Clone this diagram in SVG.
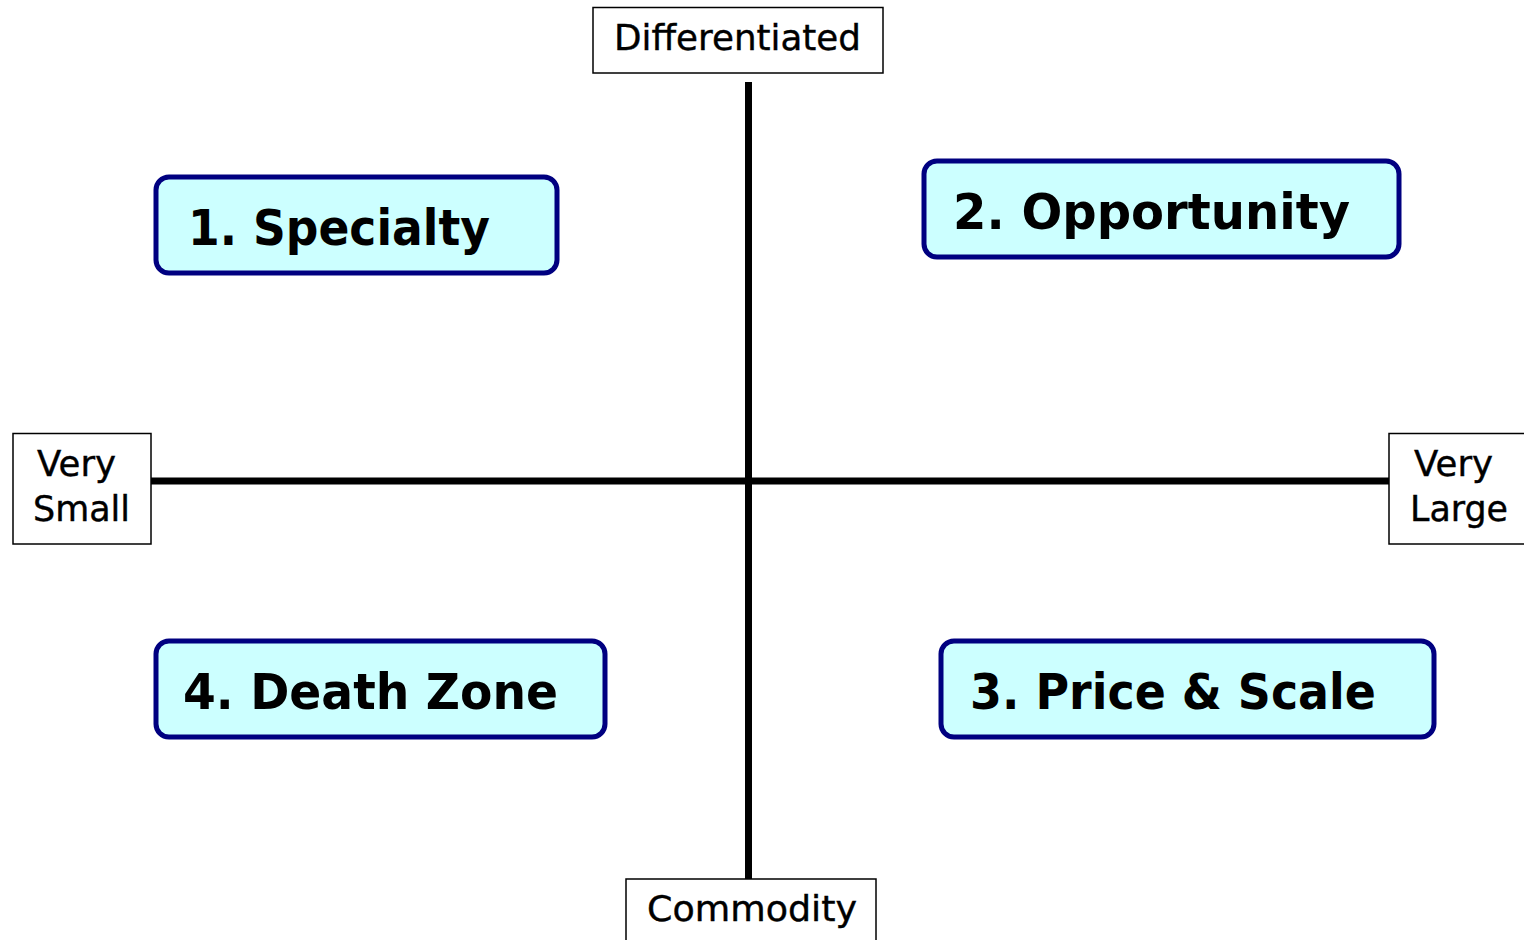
<svg xmlns="http://www.w3.org/2000/svg" width="1524" height="940" viewBox="0 0 1524 940">
<style>
.lbl{fill:#fff;stroke:#000;stroke-width:1.5}
.lt{font-family:"DejaVu Sans",sans-serif;font-size:35px;fill:#000;stroke:#000;stroke-width:0.4}
.q{fill:#ccffff;stroke:#000080;stroke-width:5}
.qt{font-family:"DejaVu Sans",sans-serif;font-weight:bold;font-size:50px;fill:#000}
.ax{stroke:#000;stroke-width:7}
</style>
<rect width="1524" height="940" fill="#fff"/>
<g id="axes">
<line class="ax" x1="748.5" y1="82" x2="748.5" y2="879"/>
<line class="ax" x1="151" y1="481" x2="1389" y2="481"/>
</g>
<g id="differentiated">
<rect class="lbl" x="593" y="7.5" width="290" height="65.5"/>
<text class="lt" x="614" y="50" textLength="247" lengthAdjust="spacingAndGlyphs">Differentiated</text>
</g>
<g id="commodity">
<rect class="lbl" x="626" y="879" width="250" height="70"/>
<text class="lt" x="647" y="921" textLength="210" lengthAdjust="spacingAndGlyphs">Commodity</text>
</g>
<g id="very-small">
<rect class="lbl" x="13" y="433.5" width="138" height="110.5"/>
<text class="lt" x="37" y="476" textLength="79" lengthAdjust="spacingAndGlyphs">Very</text>
<text class="lt" x="33" y="521" textLength="97" lengthAdjust="spacingAndGlyphs">Small</text>
</g>
<g id="very-large">
<rect class="lbl" x="1389" y="433.5" width="140" height="110.5"/>
<text class="lt" x="1414" y="476" textLength="79" lengthAdjust="spacingAndGlyphs">Very</text>
<text class="lt" x="1410" y="521" textLength="98" lengthAdjust="spacingAndGlyphs">Large</text>
</g>
<g id="specialty">
<rect class="q" x="156" y="177" width="401" height="96" rx="13"/>
<text class="qt" x="188" y="245" textLength="302" lengthAdjust="spacingAndGlyphs">1. Specialty</text>
</g>
<g id="opportunity">
<rect class="q" x="924" y="161" width="475" height="96" rx="13"/>
<text class="qt" x="953" y="229" textLength="397" lengthAdjust="spacingAndGlyphs">2. Opportunity</text>
</g>
<g id="death-zone">
<rect class="q" x="156" y="641" width="449" height="96" rx="13"/>
<text class="qt" x="183" y="709" textLength="375" lengthAdjust="spacingAndGlyphs">4. Death Zone</text>
</g>
<g id="price-scale">
<rect class="q" x="941" y="641" width="493" height="96" rx="13"/>
<text class="qt" x="970" y="709" textLength="406" lengthAdjust="spacingAndGlyphs">3. Price &amp; Scale</text>
</g>
</svg>
